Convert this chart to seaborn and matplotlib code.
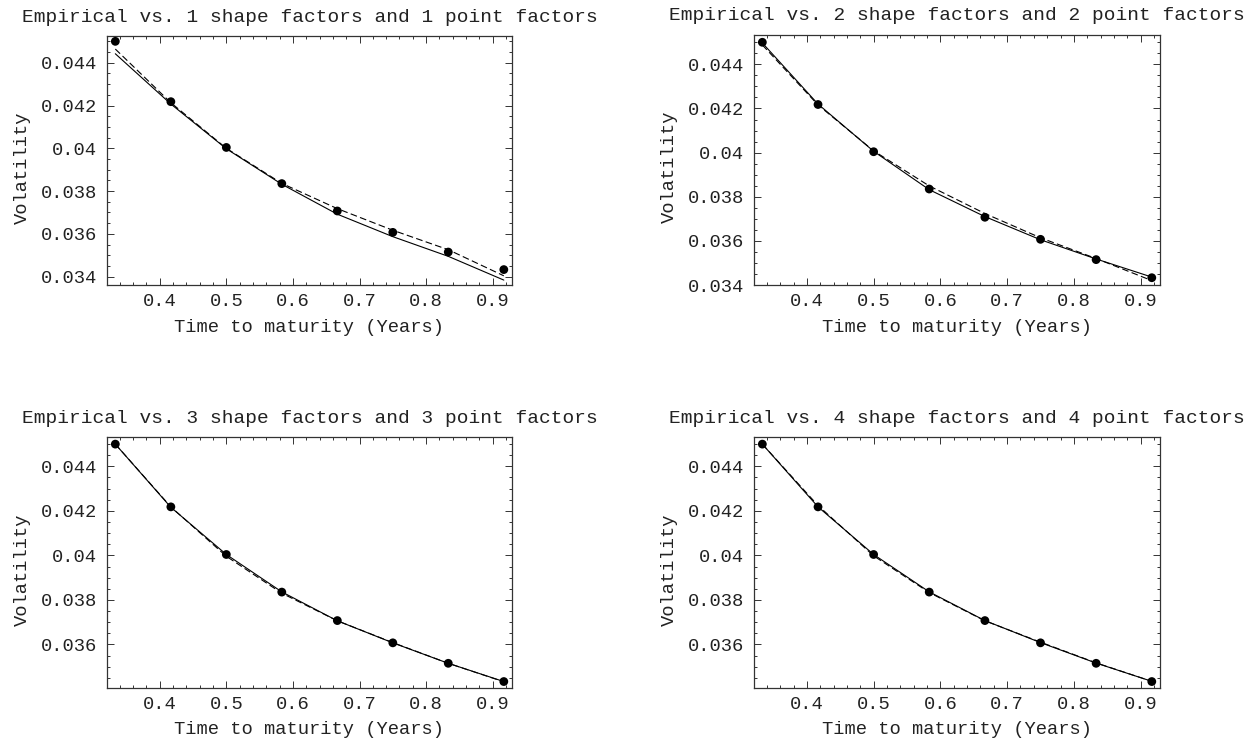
import matplotlib
matplotlib.use("Agg")
import matplotlib.pyplot as plt
from matplotlib.ticker import MultipleLocator, FuncFormatter
import pandas as pd
import seaborn as sns

# Time to maturity in years (4 to 11 months)
maturity = [0.3333, 0.4167, 0.5, 0.5833, 0.6667, 0.75, 0.8333, 0.9167]

# Observed volatility term structure
empirical = [0.04500, 0.04218, 0.04004, 0.03835, 0.03707, 0.03607, 0.03515, 0.03433]

# Fitted curves: shape-factor model (solid) and point-factor model (dashed)
shape_fit_1 = [0.04442, 0.04207, 0.03998, 0.03832, 0.03692, 0.03587, 0.03495, 0.03384]
point_fit_1 = [0.04464, 0.04213, 0.04000, 0.03836, 0.03718, 0.03617, 0.03526, 0.03404]
shape_fit_2 = [0.04497, 0.04220, 0.04006, 0.03832, 0.03710, 0.03605, 0.03518, 0.03436]
point_fit_2 = [0.04488, 0.04216, 0.04008, 0.03849, 0.03724, 0.03614, 0.03520, 0.03420]
shape_fit_3 = [0.04500, 0.04216, 0.04004, 0.03836, 0.03706, 0.03607, 0.03515, 0.03433]
point_fit_3 = [0.04500, 0.04218, 0.03996, 0.03830, 0.03706, 0.03608, 0.03515, 0.03432]
shape_fit_4 = [0.04500, 0.04218, 0.04004, 0.03836, 0.03707, 0.03608, 0.03516, 0.03434]
point_fit_4 = [0.04500, 0.04224, 0.03998, 0.03833, 0.03706, 0.03610, 0.03517, 0.03434]

n_factors = [1, 2, 3, 4]
shape_fits = [shape_fit_1, shape_fit_2, shape_fit_3, shape_fit_4]
point_fits = [point_fit_1, point_fit_2, point_fit_3, point_fit_4]

title_fmt = "Empirical vs. {0} shape factors and {0} point factors"
x_label = "Time to maturity (Years)"
y_label = "Volatility"

sns.set_style("ticks")
plt.rcParams["font.family"] = ["Liberation Mono", "DejaVu Sans Mono"]
TEXT = "#222222"
FRAME = "#333333"

W, H = 1252, 742
fig = plt.figure(figsize=(W / 100, H / 100), dpi=100)
fig.patch.set_facecolor("white")

# panel boxes in pixels: left, top, right, bottom
boxes = [(107, 36, 512, 285), (754, 35, 1160, 285),
         (107, 437, 512, 688), (754, 437, 1160, 688)]
ylims = [(0.03361, 0.04525), (0.03400, 0.04533),
         (0.03404, 0.04532), (0.03404, 0.04532)]
xlim = (0.3208, 0.9290)


def vol_fmt(v, _):
    s = f"{v:.3f}".rstrip("0")
    return s


for k, (l, t, r, b) in enumerate(boxes):
    ax = fig.add_axes([l / W, 1 - b / H, (r - l) / W, (b - t) / H])
    fits = pd.DataFrame({
        "T": maturity * 2,
        "vol": shape_fits[k] + point_fits[k],
        "model": ["shape"] * len(maturity) + ["point"] * len(maturity),
    })
    obs = pd.DataFrame({"T": maturity, "vol": empirical})

    sns.lineplot(data=fits, x="T", y="vol", style="model",
                 dashes={"shape": "", "point": (6, 3)},
                 color="black", linewidth=0.8, legend=False, ax=ax,
                 sort=False, estimator=None)
    sns.scatterplot(data=obs, x="T", y="vol", color="black", s=40,
                    edgecolor="none", legend=False, ax=ax, zorder=5)

    ax.set_xlim(*xlim)
    ax.set_ylim(*ylims[k])
    ax.xaxis.set_major_locator(MultipleLocator(0.1))
    ax.xaxis.set_minor_locator(MultipleLocator(0.02))
    ax.yaxis.set_major_locator(MultipleLocator(0.002))
    ax.yaxis.set_minor_locator(MultipleLocator(0.0005))
    ax.xaxis.set_major_formatter(FuncFormatter(lambda v, _: f"{v:.1f}"))
    ax.yaxis.set_major_formatter(FuncFormatter(vol_fmt))
    ax.tick_params(which="both", direction="in", top=True, right=True,
                   color=FRAME, width=0.7)
    ax.tick_params(which="major", length=5, labelsize=13.5,
                   labelcolor=TEXT)
    ax.tick_params(axis="x", which="major", pad=6)
    ax.tick_params(axis="y", which="major", pad=7)
    ax.tick_params(which="minor", length=2.5)
    for sp in ax.spines.values():
        sp.set_visible(True)
        sp.set_color(FRAME)
        sp.set_linewidth(0.9)
    ax.set_xlabel("")
    ax.set_ylabel("")

    cx = (l + r) / 2
    fig.text(cx / W, 1 - (t - 19) / H, title_fmt.format(n_factors[k]),
             ha="center", va="center", fontsize=14, color=TEXT)
    fig.text(cx / W, 1 - (b + 42) / H, x_label,
             ha="center", va="center", fontsize=13.5, color=TEXT)
    fig.text((l - 85) / W, 1 - ((t + b) / 2 + 7) / H, y_label,
             ha="center", va="center", rotation=90, fontsize=13.5,
             color=TEXT)

fig.savefig("out.png", dpi=100, facecolor="white")
